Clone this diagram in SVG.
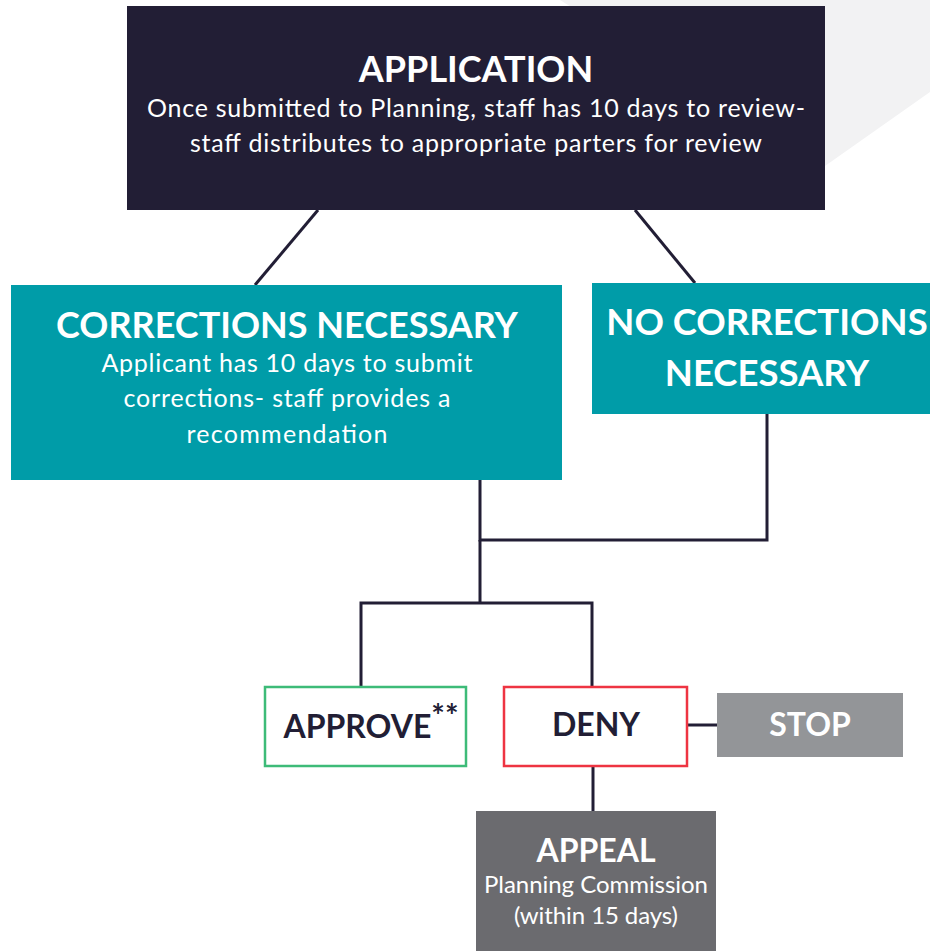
<svg xmlns="http://www.w3.org/2000/svg" width="930" height="951" viewBox="0 0 930 951">
<style>
.t{font-family:Lato,"Open Sans","Liberation Sans",sans-serif;text-anchor:middle}
.h{font-weight:bold}
.w{fill:#ffffff}
.d{fill:#221e35}
.c{stroke:#221e35;stroke-width:3;fill:none}
</style>
<rect width="930" height="951" fill="#ffffff"/>
<polygon points="663,0 930,0 930,92 825,166 560,0" fill="#f2f2f3"/>
<g id="connectors" class="c">
<line x1="318" y1="210" x2="255" y2="285"/>
<line x1="635" y1="210" x2="695" y2="283"/>
<polyline points="480,480 480,540 767,540 767,414"/>
<line x1="480" y1="540" x2="480" y2="603"/>
<polyline points="361,686 361,603 592,603 592,686"/>
<line x1="688" y1="725" x2="717" y2="725"/>
<line x1="593" y1="767" x2="593" y2="811"/>
</g>
<g id="application">
<rect x="127" y="6" width="698" height="204" fill="#221e35"/>
<text class="t h w" x="476" y="82" font-size="36">APPLICATION</text>
<text class="t w" x="476" y="117" font-size="25" textLength="658">Once submitted to Planning, staff has 10 days to review-</text>
<text class="t w" x="476" y="152" font-size="25" textLength="572">staff distributes to appropriate parters for review</text>
</g>
<g id="corrections">
<rect x="11" y="285" width="551" height="195" fill="#009ca8"/>
<text class="t h w" x="287" y="338" font-size="36">CORRECTIONS NECESSARY</text>
<text class="t w" x="287" y="372" font-size="25" textLength="371">Applicant has 10 days to submit</text>
<text class="t w" x="287" y="407" font-size="25" textLength="327">corrections- staff provides a</text>
<text class="t w" x="287" y="443" font-size="25" textLength="201">recommendation</text>
</g>
<g id="no-corrections">
<rect x="592" y="283" width="338" height="131" fill="#009ca8"/>
<text class="t h w" x="767" y="335" font-size="36.5">NO CORRECTIONS</text>
<text class="t h w" x="767" y="386" font-size="36.5">NECESSARY</text>
</g>
<g id="approve">
<rect x="265" y="687" width="201" height="79" fill="#ffffff" stroke="#3dbb78" stroke-width="2.5"/>
<text class="t h d" x="371" y="738" font-size="32" text-anchor="middle"><tspan>APPROVE</tspan><tspan font-size="32" dy="-10">**</tspan></text>
</g>
<g id="deny">
<rect x="504" y="687" width="183" height="79" fill="#ffffff" stroke="#ee3442" stroke-width="2.5"/>
<text class="t h d" x="596" y="736" font-size="32">DENY</text>
</g>
<g id="stop">
<rect x="717" y="693" width="186" height="64" fill="#939598"/>
<text class="t h w" x="810" y="736" font-size="32">STOP</text>
</g>
<g id="appeal">
<rect x="476" y="811" width="240" height="140" fill="#6b6b6f"/>
<text class="t h w" x="596" y="862" font-size="32">APPEAL</text>
<text class="t w" x="596" y="893" font-size="24" textLength="224">Planning Commission</text>
<text class="t w" x="596" y="924" font-size="24" textLength="164">(within 15 days)</text>
</g>
</svg>
